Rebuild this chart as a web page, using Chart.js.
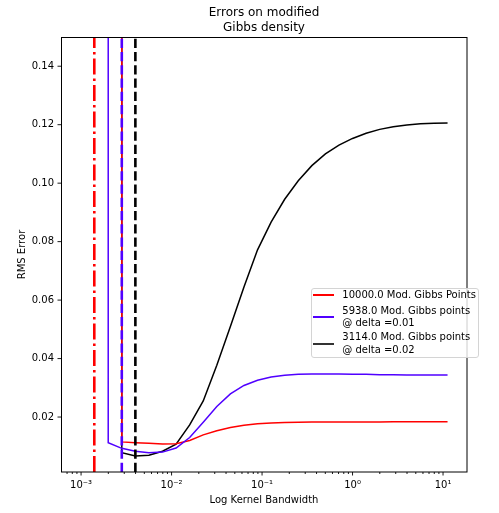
<!DOCTYPE html>
<html>
<head>
<meta charset="utf-8">
<script src="https://cdn.jsdelivr.net/npm/chart.js@4.4.1/dist/chart.umd.min.js"></script>
<style>
  html, body { margin: 0; padding: 0; background: #fff; }
  #wrap { position: relative; width: 499px; height: 513px; }
  canvas { display: block; }
  #legend {
    position: absolute; left: 310.5px; top: 287.5px; width: 168.5px; height: 70.5px;
    box-sizing: border-box; border: 1px solid #d4d4d4; border-radius: 3px;
    background: rgba(255,255,255,0.8);
    font-family: 'DejaVu Sans', sans-serif; font-size: 10px; color: #000;
  }
  .lt { position: absolute; white-space: nowrap; line-height: 12px; height: 12px; }
  .ls { position: absolute; height: 2px; width: 21px; }
</style>
</head>
<body>
<div id="wrap">
  <canvas id="c" width="499" height="513"></canvas>
  <div id="legend"></div>
</div>
<script>
// ---- data ----
const bandwidth = [0.001995, 0.002818, 0.003981, 0.005623, 0.007943, 0.01122, 0.01585, 0.02239,
  0.03162, 0.04467, 0.0631, 0.08913, 0.1259, 0.1778, 0.2512, 0.3548, 0.5012, 0.7079, 1.0,
  1.413, 1.995, 2.818, 3.981, 5.623, 7.943, 11.22];

const red10000 = [null, 0.0115, 0.0112, 0.0110, 0.0108, 0.0109, 0.0120, 0.0139, 0.0153, 0.0164,
  0.0172, 0.0177, 0.0180, 0.0181, 0.0182, 0.0183, 0.0183, 0.0183, 0.0183, 0.0183, 0.0183,
  0.0184, 0.0184, 0.0184, 0.0184, 0.0184];

const blue5938 = [0.0112, 0.0093, 0.0083, 0.0078, 0.0080, 0.0094, 0.0130, 0.0182, 0.0236, 0.0279,
  0.0308, 0.0326, 0.0337, 0.0343, 0.0346, 0.0347, 0.0347, 0.0347, 0.0346, 0.0346, 0.0345,
  0.0345, 0.0344, 0.0344, 0.0344, 0.0344];

const black3114 = [null, 0.0078, 0.0067, 0.0069, 0.0083, 0.0107, 0.0173, 0.0255, 0.0377, 0.0510,
  0.0645, 0.0772, 0.0867, 0.0945, 0.1008, 0.1060, 0.1100, 0.1130, 0.1153, 0.1171, 0.1184,
  0.1193, 0.1199, 0.1203, 0.1205, 0.1206];

// first evaluated error of each curve is far above the visible range
const offChartStart = 0.5;

// vertical reference lines (bandwidth positions)
const redVLine = 0.0014;
const blueVLine = 0.002818;
const blackVLine = 0.003981;

const seriesLabels = ['10000.0 Mod. Gibbs Points', '5938.0 Mod. Gibbs points\n@ delta =0.01', '3114.0 Mod. Gibbs points\n@ delta =0.02'];
const titleLines = ['Errors on modified', 'Gibbs density'];
const xTitle = 'Log Kernel Bandwidth';
const yTitle = 'RMS Error';

const xMin = 6.1e-4, xMax = 18.4;
const yMin = 0.0012, yMax = 0.15;
const xMajorTicks = [0.001, 0.01, 0.1, 1, 10];
const xMajorLabels = ['10⁻³', '10⁻²', '10⁻¹', '10⁰', '10¹'];
const yTicks = [0.02, 0.04, 0.06, 0.08, 0.10, 0.12, 0.14];
const yTickLabels = ['0.02', '0.04', '0.06', '0.08', '0.10', '0.12', '0.14'];

const RED = '#ff0000', BLUE = '#5000ff', BLACK = '#000000';

// ---- build ----
function curve(vals) {
  const pts = [];
  let first = true;
  vals.forEach((v, i) => {
    if (v === null) return;
    if (first) { pts.push({x: bandwidth[i], y: offChartStart}); first = false; }
    pts.push({x: bandwidth[i], y: v});
  });
  return pts;
}
function vline(x) { return [{x: x, y: yMin}, {x: x, y: yMax}]; }

const xMinorTicks = [];
[1e-4, 1e-3, 1e-2, 1e-1, 1, 10].forEach(d => {
  for (let k = 2; k <= 9; k++) {
    const v = d * k;
    if (v >= xMin && v <= xMax) xMinorTicks.push(v);
  }
});
const xAllTicks = xMajorTicks.concat(xMinorTicks).sort((a, b) => a - b);

Chart.defaults.font.family = "'DejaVu Sans', sans-serif";
Chart.defaults.color = '#000';

const frameTicks = {
  id: 'frameTicks',
  afterDatasetsDraw(chart) {
    const {ctx, chartArea: a, scales} = chart;
    ctx.save();
    ctx.strokeStyle = '#000';
    ctx.lineWidth = 0.9;
    const xs = scales.x, ys = scales.y;
    xAllTicks.forEach(v => {
      const px = xs.getPixelForValue(v);
      const len = xMajorTicks.includes(v) ? 3.5 : 2;
      ctx.beginPath(); ctx.moveTo(px, a.bottom); ctx.lineTo(px, a.bottom + len); ctx.stroke();
    });
    yTicks.forEach(v => {
      const py = ys.getPixelForValue(v);
      ctx.beginPath(); ctx.moveTo(a.left, py); ctx.lineTo(a.left - 3.5, py); ctx.stroke();
    });
    ctx.lineWidth = 1;
    ctx.strokeRect(a.left + 0.5, a.top + 0.5, a.right - a.left - 0.5, a.bottom - a.top - 0.5);
    ctx.restore();
  }
};

new Chart(document.getElementById('c'), {
  type: 'line',
  data: {
    datasets: [
      {label: seriesLabels[0], data: curve(red10000), borderColor: RED, borderWidth: 1.5, order: 5},
      {label: seriesLabels[1], data: curve(blue5938), borderColor: BLUE, borderWidth: 1.5, order: 4},
      {label: seriesLabels[2], data: curve(black3114), borderColor: BLACK, borderWidth: 1.5, order: 6},
      {label: 'red ref', data: vline(redVLine), borderColor: RED, borderWidth: 2.6, borderDash: [16, 4, 2.5, 4], order: 3},
      {label: 'blue ref', data: vline(blueVLine), borderColor: BLUE, borderWidth: 2.6, borderDash: [9.25, 4], order: 2},
      {label: 'black ref', data: vline(blackVLine), borderColor: BLACK, borderWidth: 2.6, borderDash: [9.25, 4], order: 1}
    ]
  },
  options: {
    responsive: false,
    animation: false,
    layout: {padding: {left: 0, right: 32, top: 0, bottom: 0}},
    elements: {point: {radius: 0}, line: {tension: 0, fill: false, borderCapStyle: 'butt'}},
    datasets: {line: {clip: 0, spanGaps: false}},
    plugins: {
      legend: {display: false},
      tooltip: {enabled: false},
      title: {
        display: true, text: titleLines, fullSize: false, color: '#000',
        font: {size: 12, weight: 'normal', lineHeight: 1.2},
        padding: {top: 5.8, bottom: 2.4}
      }
    },
    scales: {
      x: {
        type: 'logarithmic', position: 'bottom', min: xMin, max: xMax,
        grid: {display: false, drawTicks: false, tickLength: 0},
        border: {display: false},
        afterBuildTicks: s => { s.ticks = xAllTicks.map(v => ({value: v})); },
        afterFit: s => { s.height = 41; },
        ticks: {
          autoSkip: false, maxRotation: 0, minRotation: 0, padding: 7,
          font: {size: 10}, color: '#000',
          callback: v => { const i = xMajorTicks.findIndex(m => Math.abs(m - v) / m < 1e-6); return i >= 0 ? xMajorLabels[i] : ''; }
        },
        title: {display: true, text: xTitle, font: {size: 10}, color: '#000', padding: {top: 0, bottom: 7}}
      },
      y: {
        type: 'linear', position: 'left', min: yMin, max: yMax,
        grid: {display: false, drawTicks: false, tickLength: 0},
        border: {display: false},
        afterBuildTicks: s => { s.ticks = yTicks.map(v => ({value: v})); },
        afterFit: s => { s.width = 61; },
        ticks: {
          autoSkip: false, padding: 7, font: {size: 10}, color: '#000',
          callback: (v) => { const i = yTicks.findIndex(t => Math.abs(t - v) < 1e-9); return i >= 0 ? yTickLabels[i] : ''; }
        },
        title: {display: true, text: yTitle, font: {size: 10}, color: '#000', padding: {top: 16, bottom: 0}}
      }
    }
  },
  plugins: [frameTicks]
});

// ---- HTML legend ----
(function () {
  const lg = document.getElementById('legend');
  const ox = 310.5, oy = 287.5;
  const entries = [
    {color: RED, lineY: 295, lines: seriesLabels[0].split('\n'), textY: [295]},
    {color: BLUE, lineY: 317, lines: seriesLabels[1].split('\n'), textY: [310.7, 323.3]},
    {color: '#333333', lineY: 343.5, lines: seriesLabels[2].split('\n'), textY: [337.3, 350]}
  ];
  entries.forEach(e => {
    const s = document.createElement('div');
    s.className = 'ls';
    s.style.left = (313.3 - ox - 1) + 'px';
    s.style.top = (e.lineY - oy - 1 - 1) + 'px';
    s.style.background = e.color;
    lg.appendChild(s);
    e.lines.forEach((t, i) => {
      const d = document.createElement('div');
      d.className = 'lt';
      d.textContent = t;
      d.style.left = (342.3 - ox - 1) + 'px';
      d.style.top = (e.textY[i] - 6 - oy - 1) + 'px';
      lg.appendChild(d);
    });
  });
})();
</script>
</body>
</html>
